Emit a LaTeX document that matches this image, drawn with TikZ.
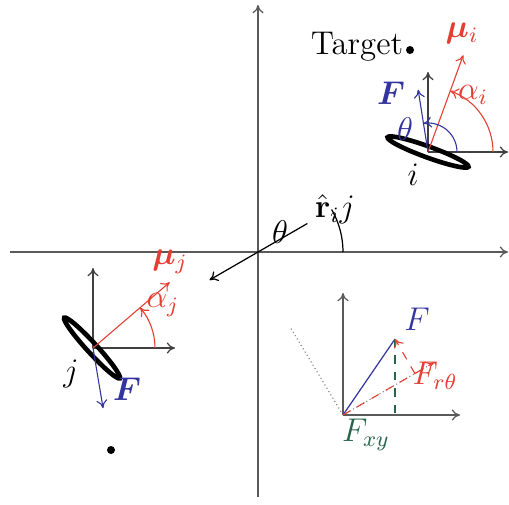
\documentclass[tikz,border=0pt]{standalone}
\usepackage{amsmath,bm}
\usetikzlibrary{arrows.meta,calc}
\definecolor{myred}{RGB}{228,62,50}
\definecolor{myblue}{RGB}{52,52,160}
\definecolor{mygreen}{RGB}{40,100,75}
\definecolor{axgray}{RGB}{90,90,90}
\tikzset{
  axis/.style={draw=axgray, line width=0.45pt, -{To[length=3pt,width=4pt]}},
  redarr/.style={draw=myred, line width=0.4pt, -{To[length=3pt,width=4pt]}},
  bluearr/.style={draw=myblue, line width=0.4pt, -{To[length=3pt,width=4pt]}},
  disk/.style={draw=black, line width=1.7pt},
  lbl/.style={inner sep=1pt, font=\large}
}
\begin{document}
\begin{tikzpicture}[x=0.365pt,y=0.365pt]
\useasboundingbox (0,0) rectangle (509,504);
% main axes
\coordinate (O) at (258,252);
\coordinate (ybot) at (258,7);
\coordinate (ytop) at (258,499);
\coordinate (xl) at (10,252);
\coordinate (xr) at (508,252);
\draw[axis] (ybot) -- (ytop);
\draw[axis] (xl) -- (xr);
% r hat
\coordinate (rup) at ($(O)+(30:57)$);
\coordinate (rdn) at ($(O)+(210:56)$);
\draw[axis, draw=black] (rup) -- (rdn);
\draw[black, line width=0.45pt] ($(O)+(0:85)$) arc (0:30:85);
\node[lbl] (th) at (280,272) {$\theta$};
\node[lbl] (rhat) at (335,295) {$\hat{\mathbf{r}}_ij$};

% group i
\coordinate (Ci) at (428,352);
\coordinate (Ciy) at (428,432);
\coordinate (Cix) at (508,352);
\draw[axis, draw=black!75] (Ci) -- (Ciy);
\draw[axis, draw=black!75] (Ci) -- (Cix);
\draw[disk, rotate around={-20:(Ci)}] (Ci) ellipse (43 and 5.5);
\draw[redarr] (Ci) -- ++(70:103) coordinate (mui);
\draw[redarr] ($(Ci)+(0:65)$) arc (0:70:65);
\draw[bluearr] (Ci) -- ++(99:63) coordinate (Fi);
\draw[bluearr] ($(Ci)+(0:29)$) arc (0:99:29);
\node[lbl, text=myred] (muil) at (462,471) {$\bm{\mu}_i$};
\node[lbl, text=myred] (alil) at (473,409) {$\alpha_i$};
\node[lbl, text=myblue] (Fil) at (391,411) {$\bm{F}$};
\node[lbl, text=myblue] (thil) at (405,375) {$\theta$};
\node[lbl] (il) at (413,329) {$i$};
\node[lbl] (targ) at (357,457) {Target};
\fill (410,454) circle (4) coordinate (tdot);

% group j
\coordinate (Cj) at (93,156);
\coordinate (Cjy) at (93,236);
\coordinate (Cjx) at (175,156);
\draw[axis, draw=black!75] (Cj) -- (Cjy);
\draw[axis, draw=black!75] (Cj) -- (Cjx);
\draw[disk, rotate around={-47.5:(92,156)}] (92,156) ellipse (41 and 5);
\draw[redarr] (Cj) -- ++(40.6:101) coordinate (muj);
\draw[redarr] ($(Cj)+(0:62)$) arc (0:40.6:62);
\draw[bluearr] (Cj) -- ++(-80.5:61) coordinate (Fj);
\node[lbl, text=myred] (mujl) at (170,242) {$\bm{\mu}_j$};
\node[lbl, text=myred] (aljl) at (163,199) {$\alpha_j$};
\node[lbl, text=myblue] (Fjl) at (127,115) {$\bm{F}$};
\node[lbl] (jl) at (71,130) {$j$};
\fill (111,54) circle (4) coordinate (jdot);

% inset
\coordinate (I) at (343,89);
\coordinate (Iy) at (343,211);
\coordinate (Ix) at (460,89);
\draw[axis] (I) -- (Iy);
\draw[axis] (I) -- (Ix);
\draw[gray, densely dotted, line width=0.4pt] (I) -- ++(121:103) coordinate (Itheta);
\draw[gray, densely dotted, line width=0.4pt] (I) -- ++(30:103) coordinate (Ir);
\draw[myblue, line width=0.45pt] (I) -- (395,165) coordinate (IF);
\draw[mygreen, dashed, line width=0.6pt] (IF) -- (395,89) coordinate (IFx);
\coordinate (Iproj) at ($(I)+(30:83)$);
\draw[redarr, dashed] (I) -- ++(30:105) coordinate (Irend);
\draw[redarr, dashed] (Iproj) -- (IF);
\node[lbl, text=myblue] (IFl) at (417,185) {$F$};
\node[lbl, text=myred] (Frt) at (435,128) {$F_{r\theta}$};
\node[lbl, text=mygreen] (Fxy) at (366,69) {$F_{xy}$};
\end{tikzpicture}
\end{document}
